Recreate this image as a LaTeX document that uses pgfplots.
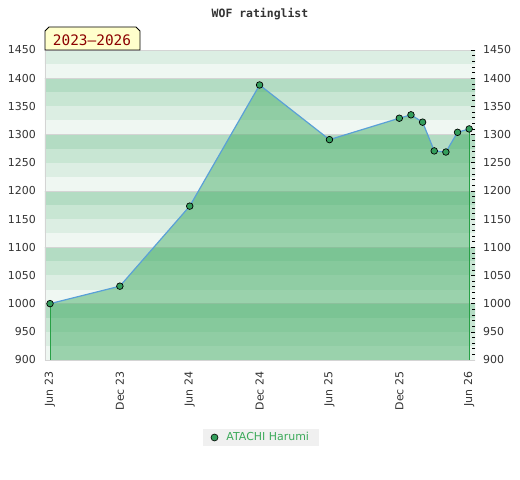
\documentclass[border=0pt]{standalone}
\usepackage{fontspec}
\setmainfont{DejaVu Sans}
\newfontfamily\monofont{DejaVu Sans Mono}
\usepackage{pgfplots}
\pgfplotsset{compat=1.18}
\definecolor{b0}{RGB}{239,247,242}
\definecolor{b1}{RGB}{220,238,227}
\definecolor{b2}{RGB}{200,230,211}
\definecolor{b3}{RGB}{179,220,195}
\definecolor{gridgray}{RGB}{212,212,212}
\definecolor{fillgreen}{RGB}{61,170,96}
\definecolor{lineblue}{RGB}{90,160,215}
\definecolor{markgreen}{RGB}{52,158,92}
\definecolor{edgegreen}{RGB}{40,160,70}
\definecolor{legendgreen}{RGB}{60,170,90}
\definecolor{legendgray}{RGB}{240,240,240}
\definecolor{labelgray}{RGB}{51,51,51}
\definecolor{boxyellow}{RGB}{255,255,204}
\definecolor{darkred}{RGB}{139,0,0}
\begin{document}
\begin{tikzpicture}
\path[use as bounding box] (-45bp,-120bp) rectangle (475bp,360bp);
\begin{axis}[
  scale only axis, width=430bp, height=310bp,
  xmin=-0.43, xmax=36.5, ymin=900, ymax=1450,
  axis on top=true,
  axis x line*=bottom, axis y line*=right,
  x axis line style={draw=gridgray,-},
  y axis line style={draw=none},
  xtick={0,6,...,36},
  xticklabels={Jun 23,Dec 23,Jun 24,Dec 24,Jun 25,Dec 25,Jun 26},
  x tick style={draw=none},
  xticklabel style={rotate=90, anchor=east, inner xsep=11.5bp, font=\fontsize{11}{13}\selectfont, text=labelgray},
  ytick={900,950,...,1450}, minor y tick num=4,
  y tick style={draw=black, line width=0.6bp},
  tick align=inside, major tick length=4bp, minor tick length=3bp,
  yticklabel style={anchor=west, inner xsep=8bp, font=\fontsize{11}{13}\selectfont, text=labelgray},
  /pgf/number format/assume math mode=true,
  /pgf/number format/1000 sep={},
  legend style={at={(0.502,-0.250)}, anchor=center, fill=legendgray, draw=none,
    font=\fontsize{11}{13}\selectfont, text=legendgreen, inner xsep=8bp, inner ysep=2bp},
  legend image code/.code={\node[circle, draw=black, fill=markgreen, inner sep=0pt, minimum size=7bp, line width=0.6bp] at (0bp,0bp) {};\path[draw=none,fill=none] (0bp,0bp) -- (10bp,0bp);},
]
% background bands
\fill[b0] (axis cs:-1,900) rectangle (axis cs:37,1450);
\fill[b1] (axis cs:-1,925) rectangle (axis cs:37,950);
\fill[b2] (axis cs:-1,950) rectangle (axis cs:37,975);
\fill[b3] (axis cs:-1,975) rectangle (axis cs:37,1000);
\fill[b1] (axis cs:-1,1025) rectangle (axis cs:37,1050);
\fill[b2] (axis cs:-1,1050) rectangle (axis cs:37,1075);
\fill[b3] (axis cs:-1,1075) rectangle (axis cs:37,1100);
\fill[b1] (axis cs:-1,1125) rectangle (axis cs:37,1150);
\fill[b2] (axis cs:-1,1150) rectangle (axis cs:37,1175);
\fill[b3] (axis cs:-1,1175) rectangle (axis cs:37,1200);
\fill[b1] (axis cs:-1,1225) rectangle (axis cs:37,1250);
\fill[b2] (axis cs:-1,1250) rectangle (axis cs:37,1275);
\fill[b3] (axis cs:-1,1275) rectangle (axis cs:37,1300);
\fill[b1] (axis cs:-1,1325) rectangle (axis cs:37,1350);
\fill[b2] (axis cs:-1,1350) rectangle (axis cs:37,1375);
\fill[b3] (axis cs:-1,1375) rectangle (axis cs:37,1400);
\fill[b1] (axis cs:-1,1425) rectangle (axis cs:37,1450);
\draw[gridgray] (axis cs:-1,1000) -- (axis cs:37,1000);
\draw[gridgray] (axis cs:-1,1100) -- (axis cs:37,1100);
\draw[gridgray] (axis cs:-1,1200) -- (axis cs:37,1200);
\draw[gridgray] (axis cs:-1,1300) -- (axis cs:37,1300);
\draw[gridgray] (axis cs:-1,1400) -- (axis cs:37,1400);
\draw[gridgray] (axis cs:-1,1450) -- (axis cs:37,1450);
\addplot[fill=fillgreen, fill opacity=0.475, draw=none, forget plot] coordinates {
(0,1000)(6,1031)(12,1173)(18,1388)(24,1291)(30,1329)(31,1335)(32,1322)(33,1271)(34,1269)(35,1304)(36,1310)} \closedcycle;
\addplot[draw=edgegreen, line width=1bp, forget plot] coordinates {(0,900)(0,1000)};
\addplot[draw=edgegreen, line width=1bp, forget plot] coordinates {(36,900)(36,1310)};
\addplot[draw=lineblue, line width=1.2bp, mark=*, mark size=3.3bp,
  mark options={fill=markgreen, draw=black, line width=0.7bp}] coordinates {
(0,1000)(6,1031)(12,1173)(18,1388)(24,1291)(30,1329)(31,1335)(32,1322)(33,1271)(34,1269)(35,1304)(36,1310)};
\addlegendentry{ATACHI Harumi}
\end{axis}
\begin{axis}[
  scale only axis, width=430bp, height=310bp,
  xmin=-0.43, xmax=36.5, ymin=900, ymax=1450,
  hide x axis, axis y line*=left,
  y axis line style={draw=gridgray,-},
  ytick={900,950,...,1450}, major tick length=0pt,
  y tick style={draw=none},
  yticklabel style={anchor=east, inner xsep=9bp, font=\fontsize{11}{13}\selectfont, text=labelgray},
  /pgf/number format/assume math mode=true,
  /pgf/number format/1000 sep={},
]
\end{axis}
\node[font=\monofont\bfseries\fontsize{11.5}{13}\selectfont, text=labelgray, anchor=base] at (215bp,342bp) {WOF ratinglist};
\draw[fill=boxyellow, line width=0.8bp] (0bp,310bp) -- (0bp,329bp) -- (4bp,333bp) -- (91bp,333bp) -- (95bp,329bp) -- (95bp,310bp) -- cycle;
\node[font=\monofont\fontsize{14.5}{16}\selectfont, text=darkred] at (47bp,320bp) {2023–2026};
\end{tikzpicture}
\end{document}
